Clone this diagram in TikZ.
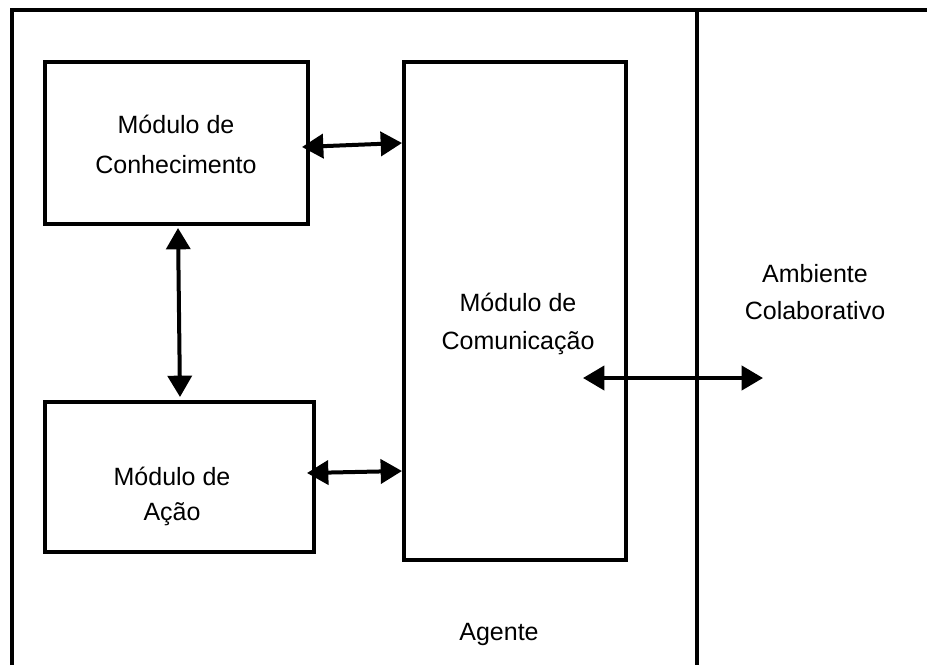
\documentclass[tikz,border=0pt]{standalone}
\usepackage{fontspec}
\setmainfont{Liberation Sans}
\usepackage{tikz}
\usetikzlibrary{arrows.meta,positioning,calc,fit}

\tikzset{
  box/.style={draw,line width=3pt,inner sep=0pt,outer sep=0pt},
  lbl/.style={font=\fontsize{18.75}{28.5}\selectfont,align=center,inner sep=0pt},
  dbl/.style={line width=3pt,{Triangle[length=16pt,width=18pt]}-{Triangle[length=16pt,width=18pt]}}
}

\begin{document}
\begin{tikzpicture}[x=0.75pt,y=-0.75pt]
\useasboundingbox (0,0) rectangle (927,665);
% agent frame and environment
\draw[line width=3pt] (12,665) -- (12,10) -- (927,10);
\draw[line width=3pt] (697,10) -- (697,665);
% modules
\node[box,fit={(45,62) (308,224)}] (conh) {};
\node[lbl,font=\fontsize{18.75}{30}\selectfont] (conhtxt) at (176,144) {Módulo de\\Conhecimento};
\node[box,fit={(45,402) (314,552)}] (acao) {};
\node[lbl,font=\fontsize{18.75}{26.25}\selectfont] (acaotxt) at (172,496) {Módulo de\\Ação};
\node[box,fit={(404,62) (626,560)}] (com) {};
\node[lbl] (comtxt) at (518,324) {Módulo de\\Comunicação};
\node[lbl,font=\fontsize{18.75}{27.75}\selectfont] (amb) at (815,292.5) {Ambiente\\Colaborativo};
\node[lbl] (agente) at (499,634) {Agente};
\coordinate (ambtip) at (763,378);
% links
\draw[dbl] ([shift={(-6,4)}]conh.east) -- ([shift={(-2,0)}]conh.east -| com.west);
\draw[dbl] ([shift={(1.5,4)}]conh.south) -- ([shift={(0.5,-5)}]acao.north);
\draw[dbl] ([shift={(-7,-4)}]acao.east) -- ([shift={(-2,-6)}]acao.east -| com.west);
\draw[dbl] ([shift={(-43,0)}]com.east |- ambtip) -- (ambtip);
\end{tikzpicture}
\end{document}
